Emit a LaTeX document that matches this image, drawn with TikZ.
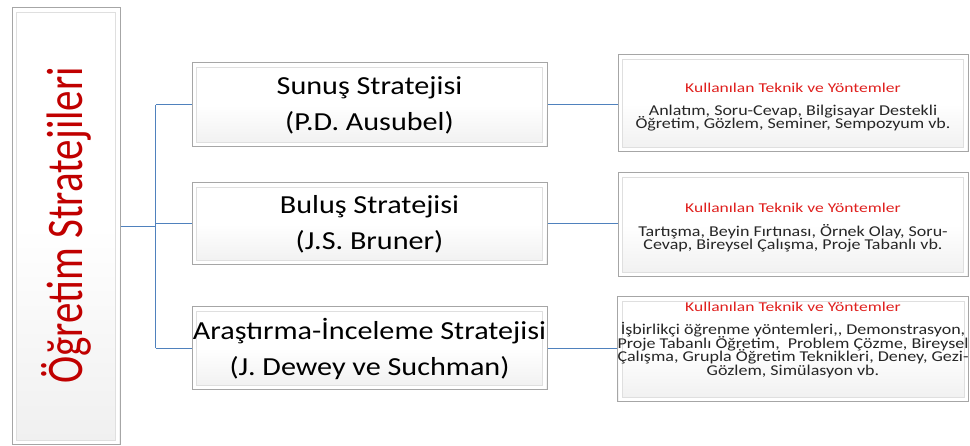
\documentclass[tikz,border=0pt]{standalone}
\usepackage{fontspec}
\setmainfont{Carlito}
\newfontfamily\wideface[FakeStretch=1.16]{Carlito}
\newfontfamily\listface[FakeStretch=1.2]{Carlito}
\newfontfamily\headface[FakeStretch=1.3]{Carlito}
\usetikzlibrary{calc}
\definecolor{linkblue}{HTML}{4F81BD}
\definecolor{titlered}{HTML}{C00000}
\definecolor{listred}{HTML}{E0201E}
\definecolor{edgegray}{HTML}{A6A6A6}
% fixed line pitch for the list text, whatever the accents
\newcommand{\tightlines}{\lineskiplimit=-20pt\relax\lineskip=0pt\relax}
% invisible struts that move a text block up or down in its box
\newcommand{\lifttext}[1]{\rule[-#1]{0pt}{0pt}}
\newcommand{\droptext}[1]{\rule{0pt}{#1}}
\tikzset{
  bevelbox/.style={draw=edgegray, line width=1pt, rectangle,
    top color=white, bottom color=gray!12, middle color=white,
    inner sep=0pt, align=center,
    path picture={
      \draw[white, line width=3pt]
        ($(path picture bounding box.south west)+(2.5pt,2.5pt)$) rectangle
        ($(path picture bounding box.north east)+(-2.5pt,-2.5pt)$);
      \draw[gray!25, line width=0.6pt]
        ($(path picture bounding box.south west)+(4.5pt,4.5pt)$) rectangle
        ($(path picture bounding box.north east)+(-4.5pt,-4.5pt)$);
    }},
  rootbox/.style={bevelbox, minimum width=108pt, minimum height=437pt},
  stratbox/.style={bevelbox, minimum width=355pt, minimum height=83pt,
    font=\wideface\fontsize{26}{36}\selectfont},
  listbox/.style={bevelbox, minimum width=350pt, minimum height=100pt,
    text=black!85, font=\listface\fontsize{15}{13.6}\selectfont\tightlines},
  link/.style={draw=linkblue, line width=1pt}
}
\newcommand{\listhead}{{\headface\color{listred}\fontsize{13.5}{13.6}\selectfont Kullanılan Teknik ve Yöntemler}}
\begin{document}
\begin{tikzpicture}[x=1pt,y=-1pt]
  \useasboundingbox (0,0) rectangle (970,446);

  % root of the tree
  \node[rootbox] (root) at (66,226.5) {};
  \node[rotate=90, anchor=base, inner sep=0pt, text=titlered, font=\fontsize{41}{44}\selectfont]
    (roottext) at (82,225.5) {\scalebox{1}[1.25]{Öğretim Stratejileri}};

  % strategies
  \node[stratbox, minimum height=84pt] (s1) at (369.5,105) {Sunuş Stratejisi\\(P.D. Ausubel)};
  \node[stratbox, minimum height=82pt] (s2) at (369.5,224) {Buluş Stratejisi\\(J.S. Bruner)};
  \node[stratbox] (s3) at (369.5,348.5) {Araştırma-İnceleme Stratejisi\\(J. Dewey ve Suchman)};

  % techniques and methods
  \node[listbox, minimum height=97pt] (t1) at (793,103.5)
    {\droptext{17pt}\listhead\\[9pt]Anlatım, Soru-Cevap, Bilgisayar Destekli\\Öğretim, Gözlem, Seminer, Sempozyum vb.};
  \node[listbox, minimum height=104pt] (t2) at (793,225)
    {\droptext{15pt}\listhead\\[10pt]Tartışma, Beyin Fırtınası, Örnek Olay, Soru-\\Cevap, Bireysel Çalışma, Proje Tabanlı vb.};
  \node[listbox, minimum height=105pt] (t3) at (793,349.5)
    {\listhead\\[9pt]İşbirlikçi öğrenme yöntemleri,, Demonstrasyon,\\Proje Tabanlı Öğretim,\ \ Problem Çözme, Bireysel\\Çalışma, Grupla Öğretim Teknikleri, Deney, Gezi-\\Gözlem, Simülasyon vb.\lifttext{21pt}};

  % connectors
  \coordinate (trunk) at ($(root.east)+(35,0)$);
  \draw[link] (root.east) -- (trunk);
  \draw[link] (trunk |- s1.west) -- (trunk |- s3.west);
  \draw[link] (trunk |- s1.west) -- (s1.west);
  \draw[link] (trunk |- s2.west) -- (s2.west);
  \draw[link] (trunk |- s3.west) -- (s3.west);
  \draw[link] (s1.east) -- (s1.east -| t1.west);
  \draw[link] (s2.east) -- (s2.east -| t2.west);
  \draw[link] (s3.east) -- (s3.east -| t3.west);
\end{tikzpicture}
\end{document}
